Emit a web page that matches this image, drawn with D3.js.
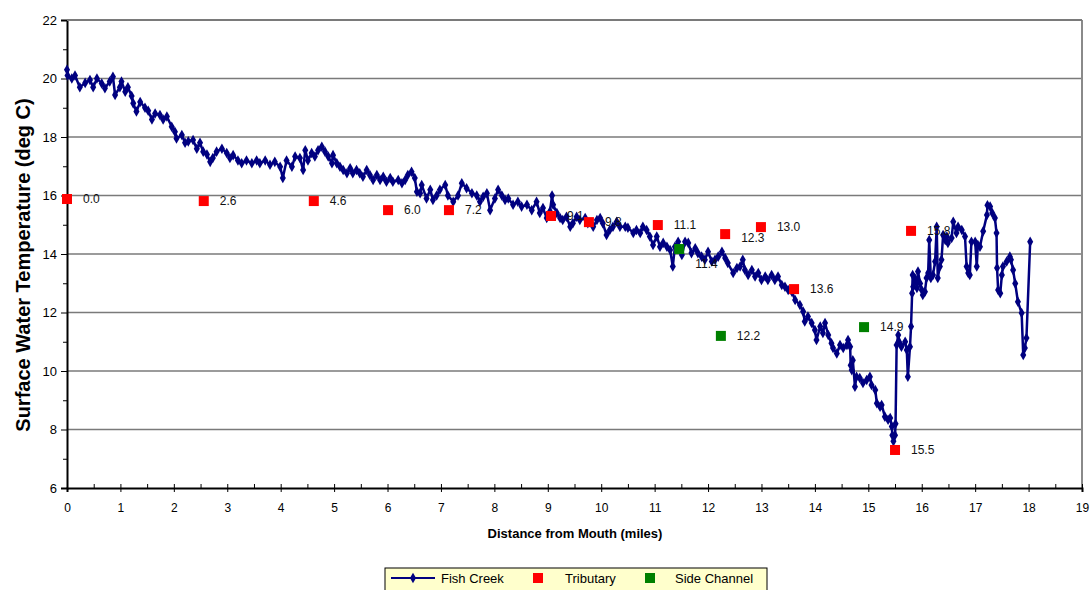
<!DOCTYPE html>
<html>
<head>
<meta charset="utf-8">
<script src="https://cdn.jsdelivr.net/npm/d3@7"></script>
<style>
  body { margin: 0; background: #fff; }
  text { font-family: Arial, "Liberation Sans", sans-serif; }
</style>
</head>
<body>
<svg id="chart"></svg>
<script>
// Fish Creek surface temperature profile (distance in miles, temperature in deg C)
const creekMiles = [
  0.00, 0.01, 0.09, 0.15, 0.24, 0.34, 0.43, 0.49, 0.56, 0.65, 0.71, 0.80, 0.86, 0.90, 0.99, 1.02, 1.09, 1.14, 1.21, 1.24,
  1.30, 1.37, 1.46, 1.52, 1.59, 1.65, 1.74, 1.80, 1.87, 1.96, 2.02, 2.05, 2.15, 2.21, 2.27, 2.36, 2.43, 2.49, 2.55, 2.62,
  2.68, 2.73, 2.80, 2.90, 2.99, 3.05, 3.11, 3.20, 3.27, 3.36, 3.46, 3.55, 3.61, 3.71, 3.80, 3.89, 3.99, 4.04, 4.11, 4.21,
  4.27, 4.36, 4.42, 4.46, 4.51, 4.58, 4.64, 4.70, 4.77, 4.83, 4.89, 4.96, 4.98, 5.05, 5.11, 5.17, 5.24, 5.30, 5.35, 5.42,
  5.48, 5.54, 5.61, 5.67, 5.73, 5.80, 5.86, 5.92, 5.98, 6.05, 6.10, 6.20, 6.27, 6.33, 6.38, 6.45, 6.51, 6.55, 6.61, 6.64,
  6.73, 6.80, 6.85, 6.92, 6.98, 7.08, 7.13, 7.23, 7.32, 7.39, 7.48, 7.58, 7.67, 7.73, 7.79, 7.86, 7.92, 8.01, 8.07, 8.14,
  8.20, 8.26, 8.35, 8.44, 8.51, 8.61, 8.70, 8.79, 8.85, 8.91, 8.98, 9.04, 9.08, 9.10, 9.17, 9.23, 9.28, 9.35, 9.42, 9.47,
  9.54, 9.60, 9.70, 9.75, 9.85, 9.92, 9.98, 10.03, 10.10, 10.16, 10.22, 10.29, 10.35, 10.45, 10.50, 10.60, 10.66, 10.73, 10.78, 10.85,
  10.91, 10.97, 11.04, 11.10, 11.16, 11.23, 11.29, 11.34, 11.38, 11.44, 11.51, 11.57, 11.63, 11.69, 11.76, 11.81, 11.88, 11.94, 12.00, 12.07,
  12.13, 12.19, 12.26, 12.32, 12.37, 12.47, 12.54, 12.60, 12.65, 12.69, 12.75, 12.82, 12.88, 12.94, 13.00, 13.07, 13.12, 13.19, 13.25, 13.31,
  13.38, 13.44, 13.50, 13.57, 13.63, 13.72, 13.78, 13.81, 13.87, 13.94, 14.00, 14.03, 14.10, 14.15, 14.19, 14.25, 14.31, 14.34, 14.41, 14.47,
  14.53, 14.60, 14.62, 14.66, 14.67, 14.69, 14.71, 14.75, 14.78, 14.84, 14.90, 14.97, 15.03, 15.06, 15.13, 15.16, 15.22, 15.25, 15.31, 15.37,
  15.41, 15.44, 15.45, 15.47, 15.50, 15.51, 15.53, 15.56, 15.59, 15.62, 15.69, 15.72, 15.74, 15.78, 15.80, 15.82, 15.83, 15.84, 15.87, 15.91,
  15.93, 15.97, 16.00, 16.02, 16.06, 16.09, 16.12, 16.14, 16.17, 16.21, 16.25, 16.28, 16.30, 16.34, 16.37, 16.40, 16.44, 16.47, 16.49, 16.56,
  16.59, 16.65, 16.68, 16.75, 16.81, 16.84, 16.87, 16.90, 16.93, 17.00, 17.03, 17.05, 17.09, 17.15, 17.22, 17.23, 17.28, 17.32, 17.37, 17.40,
  17.41, 17.43, 17.47, 17.50, 17.52, 17.59, 17.65, 17.67, 17.71, 17.75, 17.80, 17.87, 17.90, 17.93, 17.96, 18.03
];
const creekTemps = [
  20.30, 20.10, 20.00, 20.10, 19.70, 19.85, 19.95, 19.70, 20.00, 19.83, 19.67, 19.90, 20.06, 19.44, 19.70, 19.90, 19.55, 19.70, 19.40, 19.15,
  18.87, 19.20, 19.00, 18.90, 18.60, 18.80, 18.75, 18.60, 18.70, 18.35, 18.18, 17.95, 18.07, 17.80, 17.85, 17.90, 17.60, 17.80, 17.50, 17.40,
  17.15, 17.28, 17.50, 17.60, 17.45, 17.28, 17.38, 17.20, 17.10, 17.20, 17.10, 17.20, 17.10, 17.20, 17.05, 17.15, 16.98, 16.60, 17.20, 16.98,
  17.33, 17.28, 16.87, 17.55, 17.20, 17.45, 17.33, 17.55, 17.67, 17.50, 17.33, 17.10, 17.38, 17.10, 16.98, 16.87, 16.76, 16.93, 16.76, 16.87,
  16.76, 16.64, 16.87, 16.70, 16.53, 16.70, 16.53, 16.64, 16.47, 16.60, 16.47, 16.53, 16.42, 16.53, 16.70, 16.81, 16.60, 16.13, 16.08, 16.36,
  15.90, 16.20, 15.85, 16.00, 16.20, 16.36, 16.00, 15.79, 16.00, 16.42, 16.25, 16.08, 16.00, 15.79, 15.96, 16.08, 15.50, 15.90, 16.20, 16.00,
  15.85, 15.90, 15.68, 15.79, 15.62, 15.68, 15.50, 15.79, 15.40, 15.57, 15.23, 15.45, 16.00, 15.68, 15.40, 15.23, 15.16, 15.27, 14.93, 15.05,
  15.27, 15.16, 15.23, 15.05, 14.93, 15.16, 15.23, 15.05, 14.65, 14.82, 14.93, 15.10, 14.93, 14.93, 14.90, 14.72, 14.82, 14.72, 14.93, 14.82,
  14.60, 14.31, 14.60, 14.25, 14.38, 14.25, 14.14, 13.57, 14.25, 14.42, 13.97, 14.42, 14.38, 14.03, 14.20, 14.03, 13.91, 13.80, 14.08, 13.74,
  13.80, 13.91, 14.08, 13.86, 13.69, 13.35, 13.52, 13.57, 13.80, 13.45, 13.28, 13.45, 13.23, 13.35, 13.11, 13.23, 13.11, 13.28, 13.11, 13.23,
  12.94, 12.88, 12.77, 12.71, 12.43, 12.26, 12.03, 11.69, 11.86, 11.64, 11.40, 11.06, 11.52, 11.30, 11.64, 11.23, 10.95, 10.79, 10.60, 10.89,
  10.79, 10.89, 11.06, 10.83, 10.20, 10.03, 10.37, 9.46, 9.80, 9.76, 9.59, 9.69, 9.80, 9.52, 9.35, 8.90, 8.78, 8.84, 8.44, 8.33,
  8.39, 8.10, 7.80, 7.60, 7.80, 8.20, 10.89, 11.23, 10.95, 10.83, 11.00, 10.72, 9.80, 10.83, 11.52, 12.66, 13.28, 12.88, 13.18, 12.84,
  13.40, 12.99, 12.77, 12.60, 12.71, 13.18, 13.35, 14.48, 13.18, 13.28, 13.74, 14.93, 13.18, 13.57, 13.80, 14.65, 14.48, 14.60, 14.38, 14.55,
  15.10, 14.72, 14.93, 14.82, 14.60, 13.57, 13.35, 13.28, 14.42, 14.42, 13.57, 14.31, 14.25, 14.78, 15.33, 15.67, 15.62, 15.40, 15.23, 14.72,
  13.52, 12.77, 12.66, 13.28, 13.57, 13.74, 13.91, 13.80, 13.45, 12.99, 12.37, 11.98, 10.55, 10.79, 11.13, 14.42
];

// Tributary inflows
const tribMiles = [0.0, 2.56, 4.62, 6.01, 7.15, 9.06, 9.77, 11.06, 12.32, 12.99, 13.61, 15.50, 15.80];
const tribTemps = [15.88, 15.81, 15.81, 15.50, 15.50, 15.30, 15.09, 14.99, 14.68, 14.92, 12.80, 7.30, 14.79];
const tribLabels = ["0.0", "2.6", "4.6", "6.0", "7.2", "9.1", "9.8", "11.1", "12.3", "13.0", "13.6", "15.5", "15.8"];

// Side channels
const sideMiles = [11.46, 12.24, 14.92];
const sideTemps = [14.17, 11.20, 11.50];
const sideLabels = ["11.4", "12.2", "14.9"];

const xTicks = d3.range(0, 20, 1);
const yTicks = [6, 8, 10, 12, 14, 16, 18, 20, 22];

const W = 1091, H = 590;
const margin = { top: 20, right: 9, bottom: 102, left: 67 };
const width = W - margin.left - margin.right;
const height = H - margin.top - margin.bottom;

const svg = d3.select("#chart").attr("width", W).attr("height", H);
const g = svg.append("g").attr("transform", `translate(${margin.left},${margin.top})`);

const x = d3.scaleLinear().domain([0, 19]).range([0, width]);
const y = d3.scaleLinear().domain([6, 22]).range([height, 0]);

// gridlines
g.append("g")
  .selectAll("line")
  .data(yTicks.filter(d => d > 6))
  .join("line")
  .attr("x1", 0).attr("x2", width)
  .attr("y1", d => y(d)).attr("y2", d => y(d))
  .attr("stroke", "#7a7a7a")
  .attr("stroke-width", 1.3);

// right border
g.append("line")
  .attr("x1", width).attr("x2", width)
  .attr("y1", 0).attr("y2", height)
  .attr("stroke", "#8a8a8a")
  .attr("stroke-width", 2);

// Y axis, major and minor ticks
const yAxis = g.append("g")
  .call(d3.axisLeft(y).tickValues(yTicks).tickSize(6).tickPadding(4))
  .call(a => a.select(".domain").attr("stroke-width", 2));
yAxis.selectAll("text").style("font-size", "13px").attr("fill", "#000");
g.append("g")
  .call(d3.axisLeft(y).tickValues(d3.range(7, 22, 2)).tickSize(4).tickFormat(""))
  .call(a => a.select(".domain").remove());

// X axis: major ticks crossing, minor ticks inside
const xAxis = g.append("g")
  .attr("transform", `translate(0,${height})`)
  .call(d3.axisBottom(x).tickValues(xTicks).tickSize(4).tickPadding(11))
  .call(a => a.select(".domain").attr("stroke-width", 2));
xAxis.selectAll(".tick line").attr("y1", -4);
xAxis.selectAll("text").style("font-size", "12px").attr("fill", "#000");
g.append("g")
  .attr("transform", `translate(0,${height})`)
  .call(d3.axisBottom(x).tickValues(d3.range(0.5, 19, 1)).tickSize(0).tickFormat(""))
  .call(a => a.select(".domain").remove())
  .selectAll(".tick line").attr("y1", -4);

// Fish Creek line with diamond markers
const creek = creekMiles.map((m, i) => ({ m, t: creekTemps[i] }));
g.append("path")
  .datum(creek)
  .attr("fill", "none")
  .attr("stroke", "#000080")
  .attr("stroke-width", 2.5)
  .attr("stroke-linejoin", "round")
  .attr("d", d3.line().x(d => x(d.m)).y(d => y(d.t)));

const diamond = d3.symbol().type(d3.symbolDiamond).size(32);
g.append("g")
  .selectAll("path")
  .data(creek)
  .join("path")
  .attr("d", diamond)
  .attr("transform", d => `translate(${x(d.m)},${y(d.t)})`)
  .attr("fill", "#000080");

// Tributary and side channel squares with labels
const labelNudge = { "11.4": 15, "12.3": 4 };
function drawPoints(miles, temps, labels, color) {
  const pts = miles.map((m, i) => ({ m, t: temps[i], label: labels[i] }));
  const grp = g.append("g");
  grp.selectAll("rect")
    .data(pts)
    .join("rect")
    .attr("x", d => x(d.m) - 5)
    .attr("y", d => y(d.t) - 5)
    .attr("width", 10)
    .attr("height", 10)
    .attr("fill", color);
  grp.selectAll("text")
    .data(pts)
    .join("text")
    .attr("x", d => x(d.m) + 16)
    .attr("y", d => y(d.t) + (labelNudge[d.label] || 0))
    .attr("dy", "0.35em")
    .style("font-size", "12px")
    .attr("fill", "#111")
    .text(d => d.label);
}
drawPoints(tribMiles, tribTemps, tribLabels, "#ff0000");
drawPoints(sideMiles, sideTemps, sideLabels, "#008000");

// top border drawn last so it sits over the line
g.append("line")
  .attr("x1", 0).attr("x2", width)
  .attr("y1", 0).attr("y2", 0)
  .attr("stroke", "#7a7a7a")
  .attr("stroke-width", 2);

// axis titles
svg.append("text")
  .attr("transform", "translate(30,265) rotate(-90)")
  .attr("text-anchor", "middle")
  .style("font-size", "20px")
  .style("font-weight", "bold")
  .text("Surface Water Temperature (deg C)");

svg.append("text")
  .attr("x", 575)
  .attr("y", 538)
  .attr("text-anchor", "middle")
  .style("font-size", "13px")
  .style("font-weight", "bold")
  .text("Distance from Mouth (miles)");

// legend
const legend = svg.append("g").attr("transform", "translate(385,568)");
legend.append("rect")
  .attr("width", 382).attr("height", 24)
  .attr("fill", "#ffffcc")
  .attr("stroke", "#000")
  .attr("stroke-width", 1);
legend.append("line")
  .attr("x1", 6).attr("x2", 50).attr("y1", 10).attr("y2", 10)
  .attr("stroke", "#000080").attr("stroke-width", 2);
legend.append("path")
  .attr("d", diamond)
  .attr("transform", "translate(28,10)")
  .attr("fill", "#000080");
legend.append("text").attr("x", 56).attr("y", 10).attr("dy", "0.35em")
  .style("font-size", "13px").text("Fish Creek");
legend.append("rect").attr("x", 148).attr("y", 5).attr("width", 10).attr("height", 10).attr("fill", "#ff0000");
legend.append("text").attr("x", 180).attr("y", 10).attr("dy", "0.35em")
  .style("font-size", "13px").text("Tributary");
legend.append("rect").attr("x", 260).attr("y", 5).attr("width", 10).attr("height", 10).attr("fill", "#008000");
legend.append("text").attr("x", 290).attr("y", 10).attr("dy", "0.35em")
  .style("font-size", "13px").text("Side Channel");
</script>
</body>
</html>
